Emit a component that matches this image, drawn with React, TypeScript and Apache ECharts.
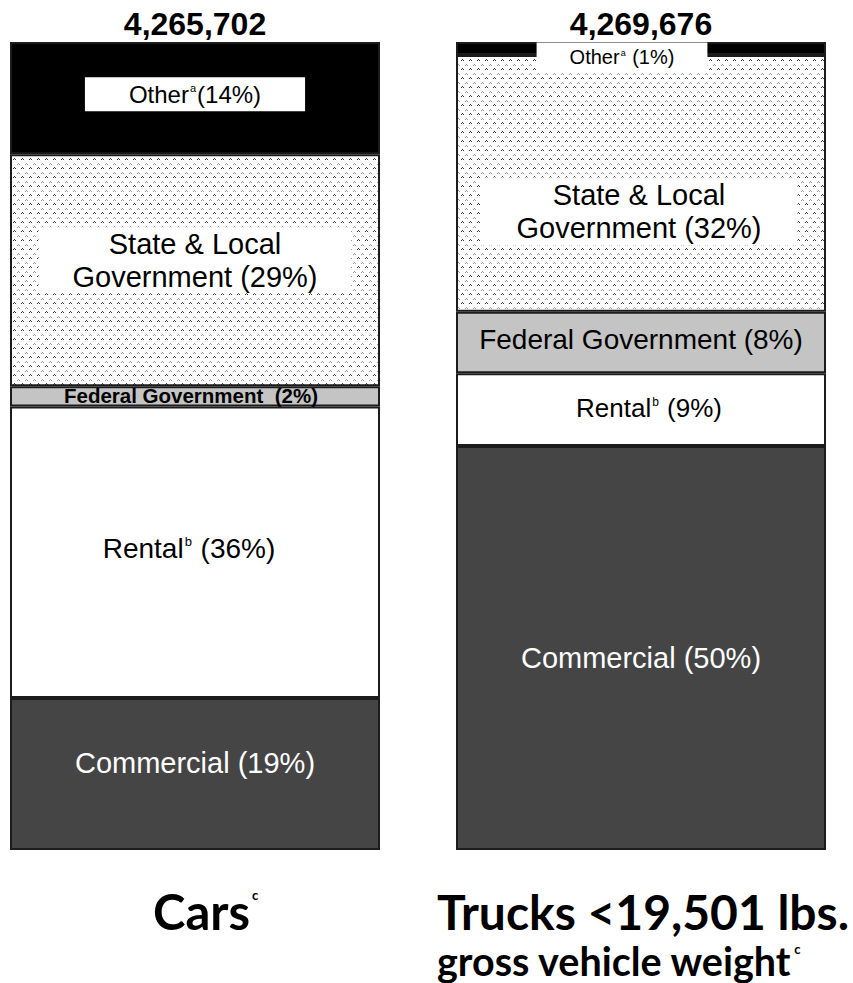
import React, { useEffect, useRef } from 'react';
import * as echarts from 'echarts';

// ---------- data ----------
const vehicleTypes = ['Cars', 'Trucks'];
const segments = ['Commercial', 'Rental', 'Federal Government', 'State & Local Government', 'Other'];
const carsShares = [18.8, 36.1, 2.5, 28.7, 13.9];
const trucksShares = [50.0, 9.0, 7.6, 31.8, 1.6];
const carsPctLabels = ['19%', '36%', '2%', '29%', '14%'];
const trucksPctLabels = ['50%', '9%', '8%', '32%', '1%'];
const totals = ['4,265,702', '4,269,676'];

const FONT = '"Liberation Sans", Arial, Helvetica, sans-serif';
const TITLE_FONT = 'Lato, "Open Sans", sans-serif';

function makePattern(): HTMLCanvasElement {
  const c = document.createElement('canvas');
  c.width = 8;
  c.height = 9;
  const ctx = c.getContext('2d')!;
  ctx.fillStyle = '#ffffff';
  ctx.fillRect(0, 0, 8, 9);
  ctx.fillStyle = '#9a9a9a';
  ctx.fillRect(2, 1, 1, 1);
  ctx.fillRect(1, 2, 1, 1);
  ctx.fillRect(3, 2, 1, 1);
  ctx.fillStyle = '#3a3a3a';
  ctx.fillRect(6, 5, 1, 1);
  ctx.fillRect(5, 6, 1, 1);
  ctx.fillRect(7, 6, 1, 1);
  return c;
}

type LStyle = { size: number; color: string; dx?: number; dy: number; lh?: number; bold?: boolean; bg?: string; pad?: number[] };

const labelStyles: LStyle[][] = [
  [
    { size: 29, color: '#ffffff', dy: -11 },
    { size: 28, color: '#000000', dx: -6, dy: -4 },
    { size: 20.5, color: '#000000', dx: -4, dy: -1, bold: true, lh: 20 },
    { size: 29, color: '#000000', dy: -10, lh: 33, bg: '#ffffff', pad: [0, 34] },
    { size: 24, color: '#000000', dy: -4, lh: 28, bg: '#ffffff', pad: [3, 44] },
  ],
  [
    { size: 29, color: '#ffffff', dy: 10 },
    { size: 26, color: '#000000', dx: 8, dy: -2 },
    { size: 28, color: '#000000', dy: -3 },
    { size: 29, color: '#000000', dx: -2, dy: 28, lh: 33, bg: '#ffffff', pad: [1, 36] },
    { size: 20, color: '#000000', dx: -19, dy: 9, lh: 22, bg: '#ffffff', pad: [4, 33] },
  ],
];

function labelText(seg: number, bar: number, pct: string): string {
  switch (seg) {
    case 0:
      return `Commercial (${pct})`;
    case 1:
      return `{t|Rental}{sup|b}{t| (${pct})}`;
    case 2:
      return bar === 0 ? `Federal Government  (${pct})` : `Federal Government (${pct})`;
    case 3:
      return `State & Local\nGovernment (${pct})`;
    default:
      return bar === 0 ? `{t|Other}{sup|a}{t|(${pct})}` : `{t|Other}{sup|a}{t| (${pct})}`;
  }
}

export default function App() {
  const ref = useRef<HTMLDivElement>(null);

  useEffect(() => {
    if (!ref.current) return;
    const chart = echarts.init(ref.current, null, { renderer: 'svg' });
    const pattern = makePattern();

    const segColors: any[] = [
      '#454545',
      '#ffffff',
      '#c4c4c4',
      { image: pattern, repeat: 'repeat', imageWidth: 8, imageHeight: 9 },
      '#000000',
    ];

    const sharesByBar = [carsShares, trucksShares];
    const pctByBar = [carsPctLabels, trucksPctLabels];
    const series: any[] = [];

    vehicleTypes.forEach((vt, b) => {
      segments.forEach((seg, s) => {
        const st = labelStyles[b][s];
        const base: any = {
          fontSize: st.size,
          color: st.color,
          fontFamily: FONT,
          fontWeight: st.bold ? 'bold' : 'normal',
          lineHeight: st.lh ?? Math.round(st.size * 1.15),
        };
        series.push({
          type: 'bar',
          name: seg,
          xAxisIndex: b,
          yAxisIndex: b,
          stack: 'total' + b,
          barWidth: '100%',
          data: [sharesByBar[b][s]],
          itemStyle: { color: segColors[s], borderColor: '#1c1c1c', borderWidth: 2 },
          label: {
            show: true,
            position: 'inside',
            offset: [st.dx ?? 0, st.dy],
            formatter: labelText(s, b, pctByBar[b][s]),
            ...base,
            backgroundColor: st.bg,
            padding: st.pad ?? 0,
            align: 'center',
            rich: {
              t: { ...base },
              sup: {
                fontSize: Math.round(st.size * 0.46),
                fontFamily: FONT,
                color: st.color,
                verticalAlign: 'top',
                lineHeight: Math.round(st.size * 0.5),
                padding: [Math.round(st.size * 0.1), 1, 0, 1],
              },
            },
          },
          silent: true,
        });
      });
      series.push({
        type: 'bar',
        name: 'Total ' + vt,
        xAxisIndex: b,
        yAxisIndex: b,
        stack: 'total' + b,
        barWidth: '100%',
        data: [0],
        itemStyle: { color: 'rgba(0,0,0,0)', borderWidth: 0 },
        label: {
          show: true,
          position: 'top',
          distance: 1,
          formatter: totals[b],
          fontSize: 32,
          fontWeight: 'bold',
          fontFamily: FONT,
          color: '#000000',
          lineHeight: 34,
        },
        silent: true,
      });
    });

    const supStyle = { fontFamily: TITLE_FONT, fontWeight: 'bold', fontSize: 13, color: '#000', verticalAlign: 'top', lineHeight: 14, padding: [2, 0, 0, 2] };

    chart.setOption({
      animation: false,
      backgroundColor: '#ffffff',
      grid: [
        { left: 10, top: 42, width: 370, height: 808 },
        { left: 456, top: 42, width: 370, height: 808 },
      ],
      xAxis: vehicleTypes.map((vt, i) => ({ type: 'category', gridIndex: i, data: [vt], show: false })),
      yAxis: vehicleTypes.map((_, i) => ({ type: 'value', gridIndex: i, min: 0, max: 100, show: false })),
      title: [
        {
          text: `{b|${vehicleTypes[0]}}{s|c}`,
          left: 153,
          top: 886,
          padding: 0,
          textStyle: {
            rich: {
              b: { fontFamily: TITLE_FONT, fontWeight: 'bold', fontSize: 49, color: '#000', lineHeight: 50 },
              s: supStyle,
            },
          },
        },
        {
          text: `{b|${vehicleTypes[1]} <19,501 lbs.}`,
          left: 437,
          top: 886,
          padding: 0,
          textStyle: {
            rich: {
              b: { fontFamily: TITLE_FONT, fontWeight: 'bold', fontSize: 48, color: '#000', lineHeight: 50 },
            },
          },
        },
        {
          text: `{m|gross vehicle weight}{s|c}`,
          left: 437,
          top: 940,
          padding: 0,
          textStyle: {
            rich: {
              m: { fontFamily: TITLE_FONT, fontWeight: 'bold', fontSize: 39.5, color: '#000', lineHeight: 40 },
              s: supStyle,
            },
          },
        },
      ],
      series,
    });

    return () => chart.dispose();
  }, []);

  return (
    <div
      ref={ref}
      style={{ position: 'fixed', left: 0, top: 0, width: 853, height: 983, background: '#fff' }}
    />
  );
}
